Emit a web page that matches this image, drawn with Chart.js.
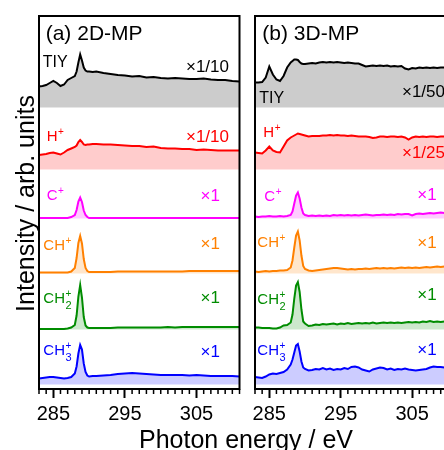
<!DOCTYPE html>
<html>
<head>
<meta charset="utf-8">
<style>
  html, body { margin: 0; padding: 0; width: 444px; height: 450px; overflow: hidden; background: #fff; }
  #panelA { position: absolute; left: 0; top: 0; }
  #panelB { position: absolute; left: 245px; top: 0; }
  #xTitle { position: absolute; left: 139px; top: 427px; font: 25px 'Liberation Sans', Arial, sans-serif; line-height: 25px; white-space: nowrap; color: #000; }
</style>
<script src="https://cdn.jsdelivr.net/npm/chart.js"></script>
</head>
<body>
<canvas id="panelA" width="250" height="450"></canvas>
<canvas id="panelB" width="220" height="450"></canvas>
<div id="xTitle">Photon energy / eV</div>
<script>
// ---- data (photon energy in eV, intensities in arb. units, each trace offset) ----
const majorTicks = [285, 295, 305];
const offsets = [5.63, 4.39, 3.41, 2.31, 1.19, 0.09];

const species = [
  { base: 'TIY' },
  { base: 'H', sup: '+' },
  { base: 'C', sup: '+' },
  { base: 'CH', sup: '+' },
  { base: 'CH', sub: '2', sup: '+' },
  { base: 'CH', sub: '3', sup: '+' }
];
const factorsA = ['×1/10', '×1/10', '×1', '×1', '×1', '×1'];
const factorsB = ['×1/50', '×1/25', '×1', '×1', '×1', '×1'];

// (a) 2D-MP
const energyA = [283, 283.5, 284, 284.5, 285, 285.5, 286, 286.5, 287, 287.5, 288,
  288.25, 288.5, 288.75, 289, 289.25, 289.5, 289.75, 290,
  290.5, 291, 292, 293, 294, 295, 296, 297, 298, 299, 300, 301, 302, 303, 304, 305, 306, 307, 308, 309, 310, 311];
const tiyA = [0.42, 0.43, 0.45, 0.49, 0.53, 0.49, 0.43, 0.46, 0.55, 0.59, 0.63,
  0.72, 0.90, 1.06, 0.94, 0.80, 0.74, 0.72, 0.72,
  0.71, 0.72, 0.69, 0.67, 0.65, 0.64, 0.62, 0.63, 0.60, 0.61, 0.59, 0.58, 0.59, 0.58, 0.57, 0.57, 0.58, 0.56, 0.55, 0.55, 0.53, 0.52];
const hA = [0.29, 0.30, 0.31, 0.33, 0.34, 0.32, 0.30, 0.34, 0.39, 0.42, 0.45,
  0.48, 0.55, 0.59, 0.55, 0.50, 0.49, 0.50, 0.50,
  0.51, 0.51, 0.50, 0.50, 0.49, 0.48, 0.47, 0.47, 0.45, 0.46, 0.43, 0.42, 0.42, 0.41, 0.41, 0.39, 0.40, 0.39, 0.38, 0.38, 0.38, 0.38];
const cA = [0.01, 0.01, 0.01, 0.01, 0.01, 0.01, 0.01, 0.01, 0.01, 0.03, 0.07,
  0.17, 0.34, 0.42, 0.33, 0.16, 0.07, 0.03, 0.01,
  0.01, 0.01, 0.01, 0.01, 0.01, 0.01, 0.01, 0.01, 0.01, 0.01, 0.01, 0.01, 0.01, 0.01, 0.01, 0.01, 0.01, 0.01, 0.01, 0.01, 0.01, 0.01];
const chA = [0.02, 0.02, 0.02, 0.02, 0.02, 0.02, 0.02, 0.02, 0.02, 0.04, 0.11,
  0.31, 0.61, 0.75, 0.60, 0.29, 0.11, 0.05, 0.03,
  0.03, 0.03, 0.03, 0.03, 0.04, 0.04, 0.04, 0.04, 0.04, 0.04, 0.04, 0.04, 0.04, 0.04, 0.05, 0.05, 0.05, 0.05, 0.05, 0.05, 0.05, 0.05];
const ch2A = [0.01, 0.01, 0.01, 0.01, 0.01, 0.01, 0.01, 0.01, 0.02, 0.04, 0.09,
  0.28, 0.66, 0.89, 0.64, 0.25, 0.08, 0.04, 0.03,
  0.03, 0.03, 0.03, 0.03, 0.04, 0.04, 0.04, 0.04, 0.04, 0.04, 0.04, 0.05, 0.04, 0.05, 0.05, 0.05, 0.05, 0.05, 0.05, 0.05, 0.05, 0.05];
const ch3A = [0.12, 0.13, 0.14, 0.15, 0.15, 0.14, 0.13, 0.12, 0.13, 0.15, 0.22,
  0.36, 0.62, 0.79, 0.70, 0.42, 0.25, 0.18, 0.16,
  0.17, 0.17, 0.18, 0.19, 0.21, 0.22, 0.23, 0.22, 0.21, 0.20, 0.19, 0.19, 0.19, 0.19, 0.18, 0.19, 0.18, 0.17, 0.17, 0.17, 0.17, 0.16];

// (b) 3D-MP
const energyB = [283, 283.5, 284, 284.5, 285, 285.5, 286, 286.5, 287, 287.5,
  288, 288.25, 288.5, 288.75, 289, 289.25, 289.5, 289.75, 290,
  290.5, 291, 291.5, 292, 292.5, 293, 293.5, 294, 294.5, 295,
  295.5, 296, 296.5, 297, 297.5, 298, 298.5, 299, 299.5, 300,
  300.5, 301, 301.5, 302, 302.5, 303, 303.5, 304, 304.5, 305,
  305.5, 306, 306.5, 307, 307.5, 308, 308.5, 309, 309.5, 310];
const tiyB = [0.50, 0.50, 0.51, 0.60, 0.82, 0.66, 0.56, 0.53, 0.63, 0.80,
  0.90, 0.93, 0.96, 0.96, 0.95, 0.91, 0.88, 0.87, 0.87,
  0.88, 0.89, 0.88, 0.90, 0.91, 0.90, 0.91, 0.90, 0.91, 0.90,
  0.89, 0.90, 0.89, 0.88, 0.88, 0.85, 0.82, 0.83, 0.84, 0.83,
  0.84, 0.83, 0.84, 0.82, 0.83, 0.82, 0.83, 0.78, 0.76, 0.79,
  0.78, 0.80, 0.79, 0.80, 0.79, 0.80, 0.79, 0.80, 0.80, 0.80];
const hB = [0.34, 0.33, 0.32, 0.38, 0.46, 0.38, 0.35, 0.34, 0.46, 0.58,
  0.64, 0.66, 0.68, 0.70, 0.72, 0.71, 0.70, 0.69, 0.68,
  0.66, 0.67, 0.67, 0.67, 0.68, 0.68, 0.69, 0.68, 0.69, 0.68,
  0.68, 0.67, 0.68, 0.67, 0.66, 0.66, 0.66, 0.65, 0.63, 0.64,
  0.66, 0.66, 0.65, 0.66, 0.66, 0.65, 0.66, 0.64, 0.60, 0.64,
  0.66, 0.65, 0.66, 0.65, 0.66, 0.66, 0.65, 0.66, 0.66, 0.66];
const cB = [0.04, 0.03, 0.04, 0.04, 0.05, 0.04, 0.04, 0.05, 0.04, 0.05,
  0.07, 0.14, 0.30, 0.46, 0.52, 0.40, 0.22, 0.10, 0.07,
  0.05, 0.06, 0.05, 0.06, 0.05, 0.06, 0.05, 0.07, 0.06, 0.07,
  0.06, 0.07, 0.06, 0.07, 0.06, 0.07, 0.08, 0.07, 0.06, 0.07,
  0.07, 0.08, 0.07, 0.08, 0.07, 0.09, 0.08, 0.09, 0.09, 0.06,
  0.09, 0.10, 0.09, 0.10, 0.11, 0.10, 0.11, 0.12, 0.11, 0.12];
const chB = [0.04, 0.03, 0.04, 0.05, 0.04, 0.05, 0.05, 0.06, 0.06, 0.07,
  0.12, 0.26, 0.52, 0.76, 0.84, 0.66, 0.36, 0.15, 0.09,
  0.06, 0.05, 0.06, 0.07, 0.08, 0.09, 0.10, 0.11, 0.11, 0.10,
  0.09, 0.08, 0.09, 0.08, 0.09, 0.09, 0.10, 0.09, 0.10, 0.11,
  0.10, 0.11, 0.10, 0.11, 0.10, 0.11, 0.12, 0.11, 0.12, 0.11,
  0.12, 0.11, 0.12, 0.13, 0.12, 0.13, 0.14, 0.13, 0.14, 0.14];
const ch2B = [0.04, 0.04, 0.03, 0.03, 0.03, 0.02, 0.02, 0.04, 0.08, 0.09,
  0.14, 0.30, 0.62, 0.88, 0.95, 0.75, 0.40, 0.16, 0.12,
  0.07, 0.08, 0.10, 0.09, 0.11, 0.10, 0.11, 0.12, 0.10, 0.12,
  0.11, 0.13, 0.11, 0.12, 0.13, 0.12, 0.13, 0.12, 0.14, 0.12,
  0.13, 0.14, 0.13, 0.14, 0.13, 0.14, 0.13, 0.14, 0.15, 0.14,
  0.15, 0.14, 0.16, 0.15, 0.17, 0.15, 0.16, 0.15, 0.16, 0.16];
const ch3B = [0.15, 0.14, 0.13, 0.16, 0.20, 0.22, 0.21, 0.23, 0.25, 0.30,
  0.40, 0.50, 0.64, 0.78, 0.81, 0.66, 0.46, 0.34, 0.31,
  0.28, 0.29, 0.31, 0.30, 0.33, 0.30, 0.32, 0.29, 0.31, 0.30,
  0.33, 0.31, 0.35, 0.36, 0.34, 0.30, 0.28, 0.26, 0.30, 0.32,
  0.34, 0.33, 0.30, 0.32, 0.29, 0.31, 0.30, 0.32, 0.30, 0.29,
  0.28, 0.29, 0.30, 0.31, 0.34, 0.36, 0.35, 0.35, 0.34, 0.35];

// ---- styling ----
const FONT = "'Liberation Sans', Arial, sans-serif";
const colors = ['#000000', '#ff0000', '#ff00ff', '#ff8000', '#008c00', '#0000ff'];
const fills = ['rgba(0,0,0,0.2)', 'rgba(255,0,0,0.2)', 'rgba(255,0,255,0.2)',
  'rgba(255,128,0,0.2)', 'rgba(0,140,0,0.2)', 'rgba(0,0,255,0.2)'];

function makeDatasets(energy, series) {
  return series.map((vals, i) => ({
    data: energy.map((e, k) => ({ x: e, y: offsets[i] + vals[k] })),
    borderColor: colors[i],
    backgroundColor: fills[i],
    borderWidth: 2,
    pointRadius: 0,
    tension: 0,
    fill: { value: offsets[i] }
  }));
}

function drawSpecies(ctx, sp, x, y, color) {
  ctx.fillStyle = color;
  ctx.textAlign = 'left';
  ctx.textBaseline = 'alphabetic';
  ctx.font = (sp.base === 'TIY' ? 16 : 15) + 'px ' + FONT;
  ctx.fillText(sp.base, x, y);
  const w = ctx.measureText(sp.base).width;
  if (sp.sup) {
    ctx.font = '10px ' + FONT;
    ctx.fillText(sp.sup, x + w + 0.5, y - 6);
  }
  if (sp.sub) {
    ctx.font = '11px ' + FONT;
    ctx.fillText(sp.sub, x + w + 0.5, y + 6);
  }
}

// box around the plot + minor ticks every 1 eV
const framePlugin = {
  id: 'frame',
  afterDraw(chart) {
    const { ctx, chartArea: a } = chart;
    const x = chart.scales.x;
    ctx.save();
    ctx.strokeStyle = '#000';
    ctx.lineWidth = 2;
    ctx.strokeRect(a.left, a.top, a.right - a.left, a.bottom - a.top);
    ctx.lineWidth = 1.5;
    ctx.beginPath();
    for (let v = Math.ceil(x.min); v <= x.max; v++) {
      if (majorTicks.includes(v)) continue;
      const px = x.getPixelForValue(v);
      ctx.moveTo(px, a.bottom);
      ctx.lineTo(px, a.bottom + 5);
    }
    ctx.stroke();
    ctx.restore();
  }
};

// panel title, species names, scale factors, y title
const labelPlugin = {
  id: 'panelLabels',
  afterDraw(chart, args, opts) {
    const { ctx, chartArea: a } = chart;
    ctx.save();
    ctx.fillStyle = '#000';
    ctx.font = '21px ' + FONT;
    ctx.textAlign = 'left';
    ctx.textBaseline = 'alphabetic';
    ctx.fillText(opts.title, a.left + opts.titlePos[0], a.top + opts.titlePos[1]);

    species.forEach((sp, i) => {
      drawSpecies(ctx, sp, a.left + opts.namePos[i][0], a.top + opts.namePos[i][1], colors[i]);
      ctx.fillStyle = colors[i];
      ctx.font = '17px ' + FONT;
      ctx.textAlign = 'right';
      ctx.fillText(opts.factors[i], a.left + opts.factorPos[i][0], a.top + opts.factorPos[i][1]);
    });

    if (opts.yTitle) {
      ctx.translate(33.5, 203.5);
      ctx.rotate(-Math.PI / 2);
      ctx.fillStyle = '#000';
      ctx.font = '25px ' + FONT;
      ctx.textAlign = 'center';
      ctx.fillText(opts.yTitle, 0, 0);
    }
    ctx.restore();
  }
};

function makeOptions(pad, labels) {
  return {
    responsive: false,
    animation: false,
    layout: { padding: pad },
    plugins: {
      legend: { display: false },
      tooltip: { enabled: false },
      panelLabels: labels
    },
    scales: {
      x: {
        type: 'linear',
        min: 283,
        max: 311,
        afterBuildTicks: s => { s.ticks = majorTicks.map(v => ({ value: v })); },
        afterFit: s => { s.height = 61; },
        border: { display: false },
        grid: { drawOnChartArea: false, drawTicks: true, tickLength: 9, tickWidth: 2, tickColor: '#000' },
        ticks: { color: '#000', font: { family: FONT, size: 20 }, padding: 4, maxRotation: 0, autoSkip: false }
      },
      y: { display: false, min: 0, max: 7.46 }
    }
  };
}

new Chart(document.getElementById('panelA'), {
  type: 'line',
  data: { datasets: makeDatasets(energyA, [tiyA, hA, cA, chA, ch2A, ch3A]) },
  options: makeOptions({ left: 39, right: 10.5, top: 16, bottom: 0 }, {
    title: '(a) 2D-MP',
    titlePos: [6.7, 24],
    namePos: [[3.7, 50.7], [7.7, 125], [7.7, 184], [4.3, 234], [4.3, 286.7], [4.3, 339]],
    factors: factorsA,
    factorPos: [[190, 55.7], [190, 125.7], [181, 184.7], [181, 233.3], [181, 287.3], [181, 340.7]],
    yTitle: 'Intensity / arb. units'
  }),
  plugins: [framePlugin, labelPlugin]
});

new Chart(document.getElementById('panelB'), {
  type: 'line',
  data: { datasets: makeDatasets(energyB, [tiyB, hB, cB, chB, ch2B, ch3B]) },
  options: makeOptions({ left: 10, right: 10, top: 16, bottom: 0 }, {
    title: '(b) 3D-MP',
    titlePos: [7.3, 24],
    namePos: [[4.3, 87.3], [8.3, 120.7], [9.3, 184.7], [2.3, 230.7], [2.3, 288], [2.3, 339]],
    factors: factorsB,
    factorPos: [[190, 80.7], [190, 142.3], [181.7, 184], [181.7, 231.7], [181.7, 284], [181.7, 339]],
    yTitle: null
  }),
  plugins: [framePlugin, labelPlugin]
});
</script>
</body>
</html>
